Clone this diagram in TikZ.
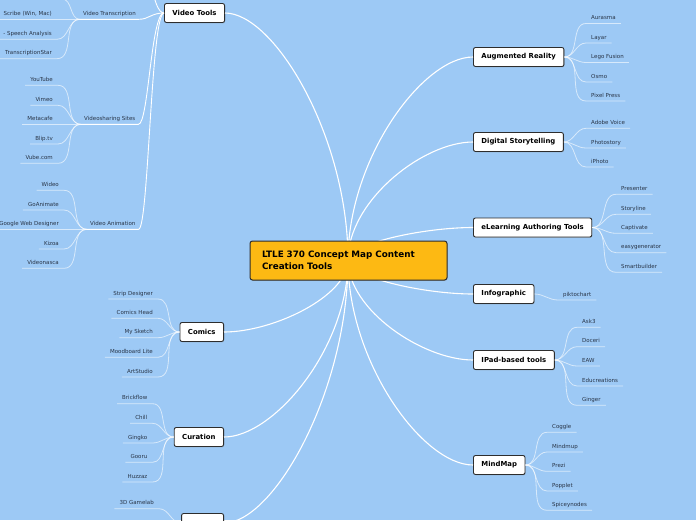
\documentclass[tikz,border=0pt]{standalone}
\usepackage{fontspec}
\setmainfont{DejaVu Sans}
\usetikzlibrary{calc,shadows}
\definecolor{mapblue}{RGB}{157,201,245}
\definecolor{hubgold}{RGB}{253,185,19}
\definecolor{boxline}{RGB}{45,45,45}
\definecolor{leafink}{RGB}{40,52,70}
\tikzset{
  topic/.style={draw=boxline, fill=white, line width=0.9pt, rounded corners=2pt,
    inner xsep=8pt, minimum height=19pt, text=black,
    font=\fontsize{6.9}{8}\selectfont\bfseries,
    drop shadow={shadow xshift=0.6pt, shadow yshift=-0.8pt, opacity=0.35}},
  hubbox/.style={topic, fill=hubgold, line width=1pt, rounded corners=2.5pt,
    text width=173pt, align=left, inner xsep=12pt, minimum height=39pt,
    font=\fontsize{8.8}{11.5}\selectfont\bfseries},
  leaf/.style={inner xsep=5pt, inner ysep=2.5pt, text height=3.9pt, text depth=1.1pt,
    font=\fontsize{5.5}{6.5}\selectfont, text=leafink},
  subtopic/.style={leaf, inner xsep=3pt},
  branch/.style={white, line width=1.1pt,
    to path={.. controls ($(\tikztostart)!0.5!(\tikztostart|-\tikztotarget)$)
      and ($(\tikztotarget)!0.4!(\tikztotarget-|\tikztostart)$) .. (\tikztotarget)}},
  twig/.style={white, line width=0.9pt},
  leafline/.style={white, opacity=0.6, line width=0.8pt}
}

\begin{document}
\begin{tikzpicture}[x=1pt,y=-1pt]
    \useasboundingbox (0,0) rectangle (696,520);
    \clip (0,0) rectangle (696,520);
    \fill[mapblue] (0,0) rectangle (696,520);
    \coordinate (hub) at (348,260);

    % main topics
    \node[topic, anchor=east] (video) at (225,13) {Video Tools};
    \node[topic, anchor=east] (comics) at (224,332) {Comics};
    \node[topic, anchor=east] (curation) at (224,437) {Curation};
    \node[topic, anchor=east, minimum width=42pt] (games) at (224,523) {};
    \node[topic, anchor=west] (augment) at (473,57) {Augmented Reality};
    \node[topic, anchor=west] (story) at (473,142) {Digital Storytelling};
    \node[topic, anchor=west] (elearn) at (473,227.5) {eLearning Authoring Tools};
    \node[topic, anchor=west] (info) at (473,294) {Infographic};
    \node[topic, anchor=west] (ipad) at (473,360) {IPad-based tools};
    \node[topic, anchor=west] (mindmap) at (473,465) {MindMap};

    % video tools
    \node[subtopic, anchor=south west] (transcr) at (80,19.3) {Video Transcription};
    \node[subtopic, anchor=south west] (sharing) at (81,124.3) {Videosharing Sites};
    \node[subtopic, anchor=south west] (anim) at (87,229.3) {Video Animation};
    \coordinate (videoup) at (142,-40);
    \draw[twig] (video.west) .. controls +(-12,0) and +(8,0) .. (videoup);
    \foreach \s in {transcr,sharing,anim}
        \draw[twig] (video.west) .. controls +(-13,0) and +(10,0) .. (\s.south east) -- (\s.south west);

    \coordinate (transcr0) at (62,-1);
    \draw[leafline] (transcr.south west) to[out=180,in=0] (transcr0);
    \foreach \txt/\yy [count=\i] in {{Scribe (Win, Mac)}/19.3, {- Speech Analysis}/39.3, TranscriptionStar/58.7} {
        \node[leaf, anchor=south east] (transcr\i) at (57,\yy) {\txt};
        \draw[leafline] (transcr.south west) to[out=180,in=0] (transcr\i.south east) -- (transcr\i.south west);
    }
    \foreach \txt/\yy [count=\i] in {YouTube/85.3, Vimeo/105.3, Metacafe/124.3, Blip.tv/144, Vube.com/163.3} {
        \node[leaf, anchor=south east] (sharing\i) at (58,\yy) {\txt};
        \draw[leafline] (sharing.south west) to[out=180,in=0] (sharing\i.south east) -- (sharing\i.south west);
    }
    \foreach \txt/\yy [count=\i] in {Wideo/190.3, GoAnimate/210, Google Web Designer/229.3, Kizoa/249, Videonasca/268.3} {
        \node[leaf, anchor=south east] (anim\i) at (64,\yy) {\txt};
        \draw[leafline] (anim.south west) to[out=180,in=0] (anim\i.south east) -- (anim\i.south west);
    }

    % left leaves
    \foreach \txt/\yy [count=\i] in {Strip Designer/299, Comics Head/318.3, My Sketch/337.7, Moodboard Lite/357.3, ArtStudio/377} {
        \node[leaf, anchor=south east] (comics\i) at (158,\yy) {\txt};
        \draw[leafline] (comics.west) to[out=180,in=0] (comics\i.south east) -- (comics\i.south west);
    }
    \foreach \txt/\yy [count=\i] in {Brickflow/403.7, Chill/423.3, Gingko/443, Gooru/462.3, Huzzaz/482} {
        \node[leaf, anchor=south east] (curation\i) at (152.5,\yy) {\txt};
        \draw[leafline] (curation.west) to[out=180,in=0] (curation\i.south east) -- (curation\i.south west);
    }
    \node[leaf, anchor=south east] (gamelab) at (159,508.7) {3D Gamelab};
    \draw[leafline] (games.west) to[out=180,in=0] (gamelab.south east) -- (gamelab.south west);

    % right leaves
    \foreach \txt/\yy [count=\i] in {Aurasma/23.5, Layar/43, Lego Fusion/62.5, Osmo/82, Pixel Press/101} {
        \node[leaf, anchor=south west] (augment\i) at (586,\yy) {\txt};
        \draw[leafline] (augment.east) to[out=0,in=180] (augment\i.south west) -- (augment\i.south east);
    }
    \foreach \txt/\yy [count=\i] in {Adobe Voice/128.3, Photostory/148, iPhoto/167} {
        \node[leaf, anchor=south west] (story\i) at (586,\yy) {\txt};
        \draw[leafline] (story.east) to[out=0,in=180] (story\i.south west) -- (story\i.south east);
    }
    \foreach \txt/\yy [count=\i] in {Presenter/194.3, Storyline/214.3, Captivate/233.3, easygenerator/252.7, Smartbuilder/272.3} {
        \node[leaf, anchor=south west] (elearn\i) at (616,\yy) {\txt};
        \draw[leafline] (elearn.east) to[out=0,in=180] (elearn\i.south west) -- (elearn\i.south east);
    }
    \node[leaf, anchor=south west] (info1) at (558,300) {piktochart};
    \draw[leafline] (info.east) to[out=0,in=180] (info1.south west) -- (info1.south east);
    \foreach \txt/\yy [count=\i] in {Ask3/327.3, Doceri/346.7, EAW/366, Educreations/386, Ginger/405.3} {
        \node[leaf, anchor=south west] (ipad\i) at (577,\yy) {\txt};
        \draw[leafline] (ipad.east) to[out=0,in=180] (ipad\i.south west) -- (ipad\i.south east);
    }
    \foreach \txt/\yy [count=\i] in {Coggle/432.3, Mindmup/452, Prezi/471.3, Popplet/491, Spiceynodes/510.3} {
        \node[leaf, anchor=south west] (mindmap\i) at (547,\yy) {\txt};
        \draw[leafline] (mindmap.east) to[out=0,in=180] (mindmap\i.south west) -- (mindmap\i.south east);
    }

    % branches from the centre
    \foreach \t in {video.east, comics.east, curation.east, games.east, augment.west,
                    story.west, elearn.west, info.west, ipad.west, mindmap.west}
        \draw[branch] (hub) to (\t);
    \foreach \p [count=\i] in {(225,-400),(473,-300),(473,-90),(224,680),(224,760),(224,860),(224,960),(473,600),(473,750)} {
        \coordinate (away\i) at \p;
        \draw[branch] (hub) to (away\i);
    }

    \node[hubbox] (ltle) at (348.5,260.5) {LTLE 370 Concept Map Content\\Creation Tools};
\end{tikzpicture}
\end{document}
